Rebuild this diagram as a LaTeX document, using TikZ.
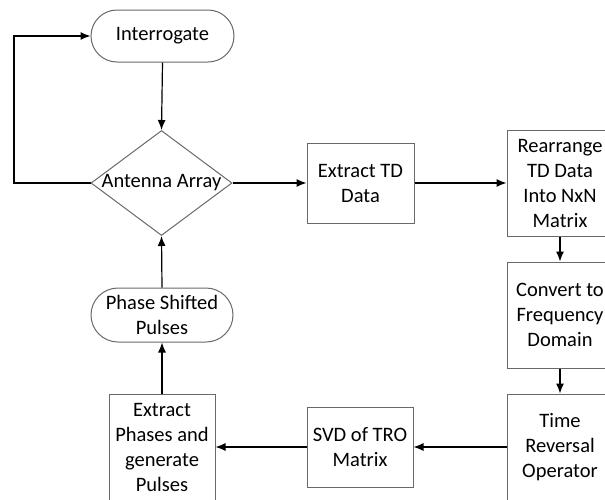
\documentclass[tikz,border=0pt]{standalone}
\usepackage{fontspec}
\setmainfont{Carlito}
\usetikzlibrary{shapes.geometric,shapes.misc,arrows.meta}
\definecolor{boxgray}{RGB}{105,105,105}
\begin{document}
\begin{tikzpicture}[x=1pt,y=-1pt,
  every node/.style={font=\fontsize{20.5}{25}\selectfont, inner sep=0pt},
  procbox/.style={draw=boxgray, line width=1pt, rectangle, align=center},
  termbox/.style={draw=boxgray, line width=1pt, rounded rectangle, align=center},
  arr/.style={line width=1.2pt, -{Latex[length=10pt,width=8pt]}}]
\useasboundingbox (0,0) rectangle (605,499);
\clip (0,0) rectangle (605,499);
\node[termbox, minimum width=143pt, minimum height=52pt] (inter) at (162.5,36) {Interrogate};
\node[draw=boxgray, line width=1pt, diamond, minimum width=141pt, minimum height=105pt] (dia) at (161.5,183) {};
\node (diatext) at (dia.center) {Antenna Array};
\node[procbox, minimum width=107pt, minimum height=80pt] (extd) at (360.5,183) {Extract TD\\Data};
\node[procbox, minimum width=106pt, minimum height=106pt] (rear) at (560,183) {Rearrange\\TD Data\\Into NxN\\Matrix};
\node[procbox, minimum width=106pt, minimum height=106pt] (conv) at (560,315) {Convert to\\Frequency\\Domain};
\node[procbox, minimum width=106pt, minimum height=106pt] (tro) at (560,447) {Time\\Reversal\\Operator};
\node[procbox, minimum width=106pt, minimum height=80pt] (svd) at (360,447) {SVD of TRO\\Matrix};
\node[procbox, minimum width=106pt, minimum height=106pt] (expp) at (162,447) {Extract\\Phases and\\generate\\Pulses};
\node[termbox, minimum width=142pt, minimum height=54pt] (phase) at (162,315) {Phase Shifted\\Pulses};
\coordinate (loopb) at (14,183);
\coordinate (loopt) at (14,36);
\draw[arr] (inter.south) -- (dia.north);
\draw[arr] (dia.west) -- (loopb) -- (loopt) -- (inter.west);
\draw[arr] (dia.east) -- (extd.west);
\draw[arr] (extd.east) -- (extd.east -| rear.west);
\draw[arr] (rear.south) -- (conv.north);
\draw[arr] (conv.south) -- (tro.north);
\draw[arr] (tro.west |- svd.east) -- (svd.east);
\draw[arr] (svd.west) -- (svd.west -| expp.east);
\draw[arr] (expp.north) -- (phase.south);
\draw[arr] (phase.north) -- (dia.south);
\end{tikzpicture}
\end{document}
